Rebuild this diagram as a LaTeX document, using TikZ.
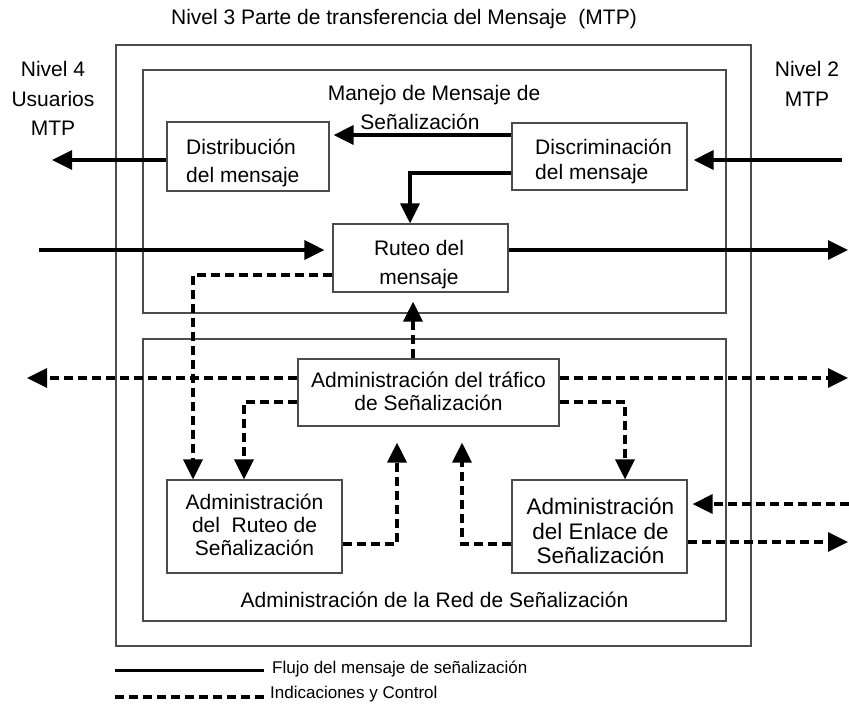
\documentclass[tikz,border=0pt]{standalone}
\usepackage{fontspec}
\setmainfont{Liberation Sans}
\usetikzlibrary{arrows.meta}
\begin{document}
\begin{tikzpicture}[x=1pt,y=-1pt,
  box/.style={draw=black!70,line width=1.2pt,inner sep=0pt},
  txt/.style={inner sep=0pt,font=\fontsize{21}{29}\selectfont,align=center},
  lgtxt/.style={inner sep=0pt,anchor=west,font=\fontsize{17}{20}\selectfont},
  sol/.style={line width=3.2pt,-{Triangle[length=20pt,width=19pt]}},
  dsh/.style={sol,dash pattern=on 9pt off 5pt},
  lgline/.style={line width=3.2pt},
]
\useasboundingbox (0,0) rectangle (849,705);

% frames
\node[box,minimum width=635pt,minimum height=601pt] (outer) at (433.5,345.5) {};
\node[box,minimum width=583pt,minimum height=243pt] (innertop) at (434.5,191.5) {};
\node[box,minimum width=583pt,minimum height=282pt] (innerbot) at (434.5,480) {};

% boxes
\node[box,minimum width=162pt,minimum height=69pt] (distrib) at (248,156.5) {};
\node[box,minimum width=175pt,minimum height=67pt] (discrim) at (599.5,156.5) {};
\node[box,minimum width=175pt,minimum height=68pt] (ruteo) at (420.5,258) {};
\node[box,minimum width=261pt,minimum height=67pt] (trafico) at (428.5,392.5) {};
\node[box,minimum width=175pt,minimum height=93pt] (admruteo) at (254.5,526.5) {};
\node[box,minimum width=175pt,minimum height=93pt] (enlace) at (599.5,526.5) {};

% texts
\node[txt] (title) at (404,19) {Nivel 3 Parte de transferencia del Mensaje\ \ (MTP)};
\node[txt,font=\fontsize{21}{29.5}\selectfont] (n4) at (53,98.5) {Nivel 4\\Usuarios\\MTP};
\node[txt,font=\fontsize{21}{30}\selectfont] (n2) at (807,84) {Nivel 2\\MTP};
\node[txt] (manejoA) at (434,95) {Manejo de Mensaje de};
\node[txt] (manejoB) at (420,122) {Señalización};
\node[txt,align=left,anchor=west,font=\fontsize{21}{28}\selectfont] (distribT) at (186,163) {Distribución\\del mensaje};
\node[txt,align=left,anchor=west,font=\fontsize{21}{25.5}\selectfont] (discrimT) at (535,161.5) {Discriminación\\del mensaje};
\node[txt] (ruteoT) at (419,264.5) {Ruteo del\\mensaje};
\node[txt,font=\fontsize{21}{23}\selectfont] (traficoT) at (428.5,391) {Administración del tráfico\\de Señalización};
\node[txt,font=\fontsize{21}{23}\selectfont] (admruteoT) at (254.5,525) {Administración\\del\ \ Ruteo de\\Señalización};
\node[txt,font=\fontsize{22.5}{24.5}\selectfont] (enlaceT) at (600.5,531) {Administración\\del Enlace de\\Señalización};
\node[txt] (redT) at (434.5,600) {Administración de la Red de Señalización};

% free ends
\coordinate (n4out) at (52,160);
\coordinate (n4in) at (39,250);
\coordinate (n2in) at (842,160);
\coordinate (n2out) at (848,250);
\coordinate (n4ctl) at (27,378);
\coordinate (n2ctl) at (848,378);
\coordinate (n2ctlin) at (849,504);
\coordinate (n2ctlout) at (848,542);

% solid connectors
\draw[sol] (distrib.west |- n4out) -- (n4out);
\draw[sol,shorten >=4pt] (discrim.west |- 0,135) -- (distrib.east |- 0,135);
\draw[sol] (discrim.west |- 0,173) -| (410,0 |- ruteo.north);
\draw[sol,shorten >=8pt] (n4in) -- (ruteo.west |- n4in);
\draw[sol] (ruteo.east |- n2out) -- (n2out);
\draw[sol,shorten >=6pt] (n2in) -- (discrim.east |- n2in);

% dashed connectors
\draw[dsh] (ruteo.west |- 0,275) -| (193,0 |- admruteo.north);
\draw[dsh,shorten >=9pt] (413,0 |- trafico.north) -- (413,0 |- ruteo.south);
\draw[dsh] (trafico.west |- n4ctl) -- (n4ctl);
\draw[dsh] (trafico.east |- n2ctl) -- (n2ctl);
\draw[dsh] (trafico.west |- 0,402) -| (244,0 |- admruteo.north);
\draw[dsh] (trafico.east |- 0,402) -| (625,0 |- enlace.north);
\draw[dsh,shorten >=16pt] (admruteo.east |- 0,544) -| (397,0 |- trafico.south);
\draw[dsh,shorten >=16pt] (enlace.west |- 0,544) -| (462,0 |- trafico.south);
\draw[dsh,shorten >=5pt] (n2ctlin) -- (enlace.east |- n2ctlin);
\draw[dsh] (enlace.east |- n2ctlout) -- (n2ctlout);

% legend
\node[lgtxt] (lg1t) at (272,669) {Flujo del mensaje de señalización};
\node[lgtxt] (lg2t) at (270,694.5) {Indicaciones y Control};
\coordinate (lg1s) at (115,670.5);
\coordinate (lg2s) at (115,697);
\draw[lgline,shorten >=8pt] (lg1s) -- (lg1t.west |- lg1s);
\draw[lgline,dash pattern=on 9pt off 5pt,shorten >=6pt] (lg2s) -- (lg2t.west |- lg2s);
\end{tikzpicture}
\end{document}
